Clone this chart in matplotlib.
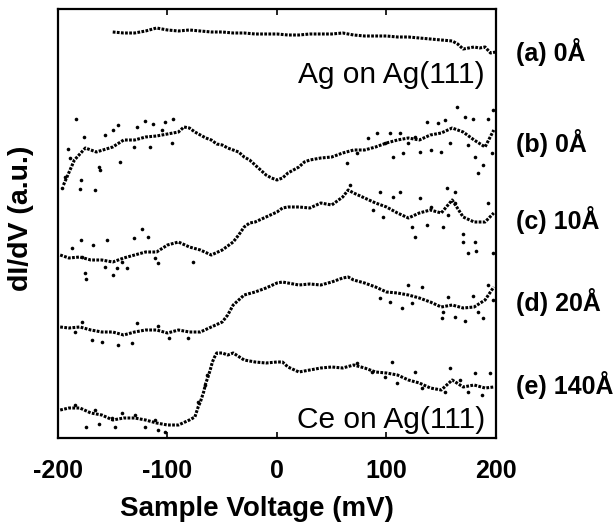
import numpy as np
import matplotlib
matplotlib.use("Agg")
import matplotlib.pyplot as plt

plt.rcParams['font.family'] = ['Liberation Sans', 'DejaVu Sans']
plt.rcParams['axes.unicode_minus'] = False

# spectra (sample voltage in mV, dI/dV in a.u.)
v_a = [-150, -140, -130, -120, -110, -100, -90, -80, -70, -60, -50, -40, -30, -20, -10, 0,
       10, 20, 30, 40, 50, 60, 70, 80, 90, 100, 110, 120, 130, 140, 150, 160, 165, 170, 175,
       180, 185, 190, 195, 200]
g_a = [406, 405, 405, 407, 410, 408, 407, 408, 407, 406, 406, 405, 405, 404, 404, 404,
       403, 403, 404, 404, 404, 405, 403, 402, 402, 402, 401, 401, 400, 399, 398, 397, 394,
       389, 390, 391, 390, 391, 385, 386]

v_b = [-195, -185, -175, -165, -150, -140, -130, -120, -110, -100, -90, -85, -80, -75, -70,
       -65, -60, -55, -50, -45, -40, -35, -30, -25, -20, -15, -10, -5, 0, 5, 10, 15, 20, 25,
       30, 40, 50, 60, 70, 80, 90, 100, 110, 120, 130, 140, 150, 160, 170, 180, 190, 198]
g_b = [253, 278, 290, 286, 291, 298, 298, 301, 302, 304, 306, 311, 310, 306, 303, 300, 298,
       294, 293, 290, 288, 286, 281, 278, 273, 268, 263, 260, 258, 260, 265, 268, 271, 276,
       278, 280, 281, 285, 288, 288, 291, 295, 298, 300, 298, 303, 305, 310, 306, 298, 291, 308]
v_b_sc = [-183.8, -190.6, -189, -179, -180, -166, -176, -163, -162, -157, -145, -143.4,
          -149.5, -128, -120.5, -113, -131, -116, -102, -94.7, -96, -105, -193.6, -196.6,
          83.4, 91, 103, 112, 126, 136.7, 147, 153.4, 164, 171.7, 179, 193, 197.6, 184, 188.4,
          180.8, 130.6, 141, 150, 158, 174.7, 196, 106, 115, 72.8, 63.7, 98.6, 119.6]
g_b_sc = [319, 289, 280, 258, 249, 248, 301, 271, 268, 303, 313, 276, 308, 311, 317, 314,
          291, 291, 316, 319, 295, 308, 261, 250,
          300, 305, 305, 305, 301, 316, 315, 318, 331, 321, 319, 319, 328, 265, 273,
          281, 286, 288, 286, 295, 293, 285, 281, 285, 285, 275, 295, 295]

v_c = [-198, -190, -180, -170, -160, -150, -140, -130, -120, -110, -100, -90, -80, -70, -60,
       -50, -40, -35, -30, -25, -20, -10, 0, 5, 10, 20, 30, 40, 50, 60, 65, 70, 80, 90, 100,
       110, 120, 130, 140, 150, 160, 170, 180, 190, 198]
g_c = [183, 180, 181, 178, 178, 176, 180, 183, 186, 186, 193, 196, 191, 188, 183, 188, 196,
       203, 211, 215, 216, 221, 226, 230, 231, 231, 230, 235, 233, 241, 248, 245, 240, 235,
       231, 225, 220, 225, 228, 225, 238, 221, 216, 216, 225]
v_c_sc = [-179, -175, -174.7, -155.5, -149.5, -146, -123.6, -117.5, -131, -137, -157, -167.8,
          -111.4, -108.4, -76.4, -187.5, -178.4, -142,
          66.7, 94, 112, 106, 130.6, 155, 162.6, 162.6, 126, 170, 170, 174, 182, 181, 197.6,
          193, 97, 123, 136.7, 152, 141, 88, 156.5]
g_c_sc = [198, 165, 159, 198, 163, 170, 209, 201, 200, 170, 171, 193, 180, 175, 176, 190,
          181, 176,
          253, 246, 246, 241, 240, 250, 246, 235, 201, 204, 196, 185, 187, 196, 185,
          235, 221, 211, 213, 211, 231, 228, 223]

v_d = [-198, -190, -180, -170, -160, -150, -140, -130, -120, -110, -100, -90, -80, -70, -60,
       -50, -45, -40, -30, -20, -10, 0, 5, 10, 20, 30, 40, 50, 60, 65, 70, 80, 90, 100, 110,
       120, 130, 140, 150, 160, 170, 180, 190, 198]
g_d = [111, 110, 111, 108, 106, 106, 103, 106, 108, 108, 105, 108, 106, 106, 111, 116, 123,
       133, 143, 146, 150, 155, 156, 155, 153, 154, 153, 156, 160, 161, 158, 155, 151, 146,
       145, 143, 140, 136, 131, 133, 130, 131, 138, 151]
v_d_sc = [-169, -160, -145, -132.7, -128, -178.4, -184.5, -108.4, -99, -81,
          94, 103, 114, 119.4, 132, 123, 150.4, 162.6, 171.7, 188.4, 156.5, 179.3, 193,
          197.6, 152, 184]
g_d_sc = [98, 96, 93, 95, 115, 116, 106, 112, 100, 100,
          140, 136, 130, 153, 151, 135, 120, 121, 117, 120, 141, 142, 153, 138, 126, 126]

v_e = [-198, -190, -180, -170, -160, -150, -140, -130, -120, -110, -100, -90, -80, -75, -72,
       -70, -67, -65, -63, -61, -59, -57, -55, -50, -45, -40, -30, -20, -10, 0, 5, 10, 20,
       30, 40, 50, 60, 70, 80, 90, 100, 110, 120, 130, 140, 150, 160, 170, 180, 190, 198]
g_e = [28, 30, 30, 25, 23, 18, 20, 20, 18, 15, 13, 13, 18, 21, 31, 36, 46, 55, 61, 68, 76,
       81, 85, 85, 83, 85, 78, 76, 75, 76, 76, 71, 66, 68, 70, 71, 70, 73, 70, 66, 65, 63,
       58, 55, 50, 48, 58, 51, 53, 50, 51]
v_e_sc = [-174, -163, -142, -129.7, -108.4, -102, -120.5, -184.5, -166, -151, -148, -111.4,
          -71.9, -64.2, -65.8,
          72.8, 104.7, 98.6, 109.3, 126, 132, 158, 153.4, 174.7, 180.8, 194.5, 187, 86.5, 167]
g_e_sc = [11, 14, 25, 23, 8, 6, 11, 33, 28, 20, 11, 18, 36, 63, 53,
          75, 76, 61, 55, 66, 50, 70, 46, 46, 65, 65, 43, 66, 58]

side_labels = ['(a) 0Å', '(b) 0Å', '(c) 10Å', '(d) 20Å', '(e) 140Å']
side_label_y = [386, 295, 218, 136, 53]

fig = plt.figure(figsize=(6.15, 5.26), dpi=100)
ax = fig.add_axes([0.0943, 0.1673, 0.7122, 0.8156])

traces = [(v_a, g_a), (v_b, g_b), (v_c, g_c), (v_d, g_d), (v_e, g_e)]
for v, g in traces:
    ax.plot(v, g, color='k', lw=2.2, ls=(0, (0.9, 0.45)), solid_capstyle='butt')
scat = [(v_b_sc, g_b_sc), (v_c_sc, g_c_sc), (v_d_sc, g_d_sc), (v_e_sc, g_e_sc)]
for v, g in scat:
    ax.plot(v, g, 'o', color='k', ms=2.6, mew=0)

ax.set_xlim(-200, 200)
ax.set_ylim(0, 429)
ax.set_xticks([-200, -100, 0, 100, 200])
ax.set_yticks([])
ax.tick_params(axis='x', direction='in', length=4, width=1.2, top=True,
               labelsize=18, pad=15)
for lab in ax.get_xticklabels():
    lab.set_fontweight('bold')
for s in ax.spines.values():
    s.set_linewidth(1.6)

ax.set_xlabel('Sample Voltage (mV)', fontsize=20, fontweight='bold')
ax.xaxis.set_label_coords(0.455, -0.135)
ax.set_ylabel('dI/dV (a.u.)', fontsize=20.5, fontweight='bold')
ax.yaxis.set_label_coords(-0.055, 0.513)

ax.text(190, 363, 'Ag on Ag(111)', fontsize=21.5, ha='right', va='center')
ax.text(190, 18, 'Ce on Ag(111)', fontsize=21.5, ha='right', va='center')

for lab, y in zip(side_labels, side_label_y):
    ax.text(1.045, y, lab, transform=ax.get_yaxis_transform(), fontsize=18,
            fontweight='bold', ha='left', va='center')

fig.savefig('out.png', dpi=100)
